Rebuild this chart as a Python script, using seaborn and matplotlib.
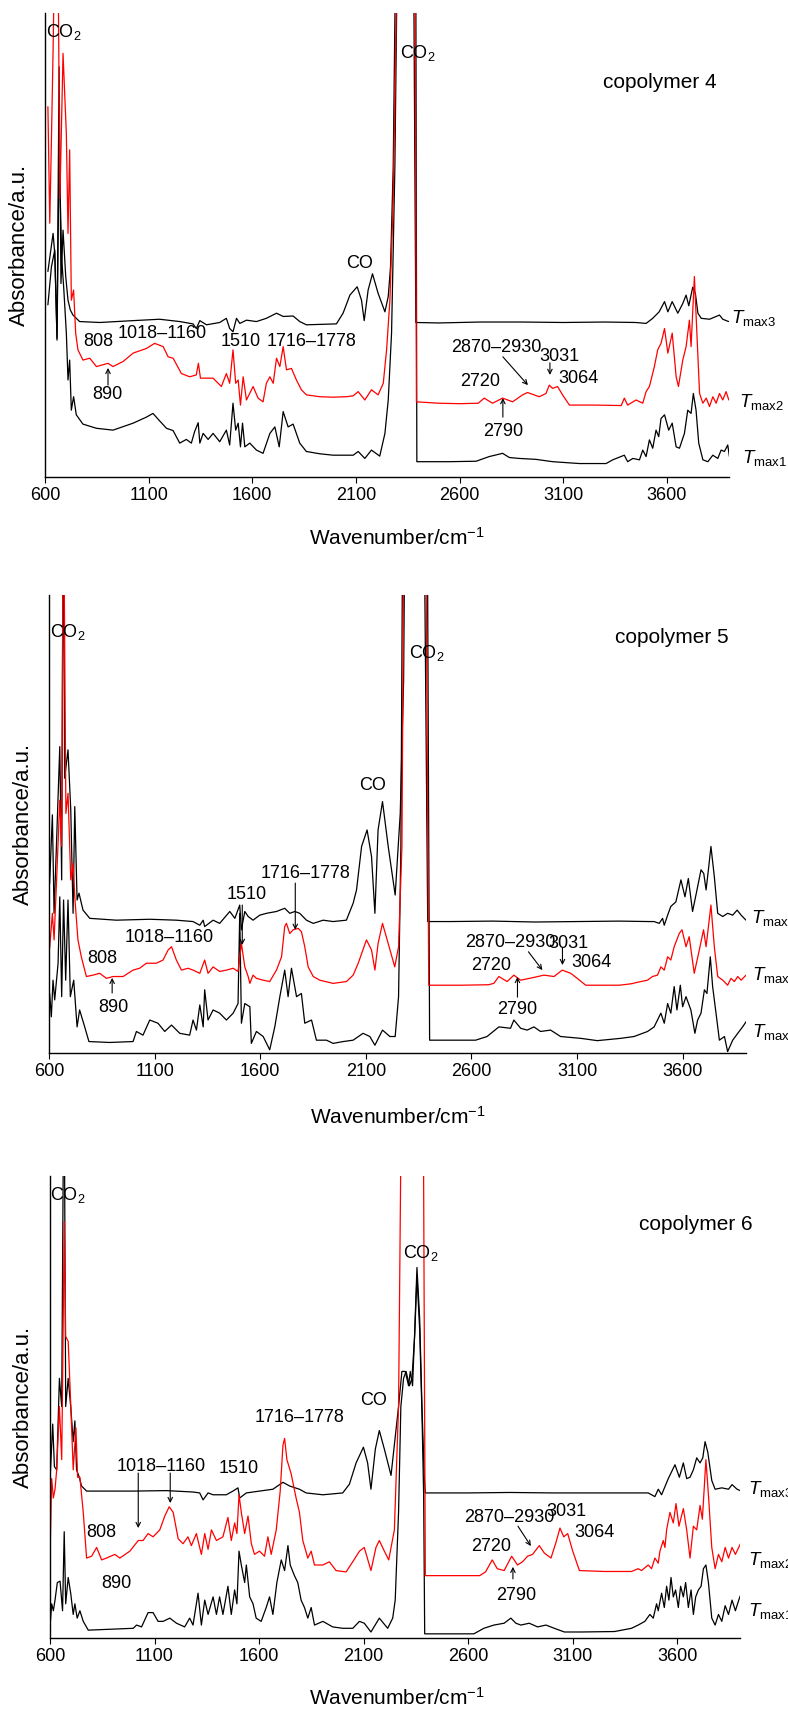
import matplotlib
matplotlib.use("Agg")
import matplotlib.pyplot as plt
import seaborn as sns
import pandas as pd

# ---------------- data (wavenumber / cm-1, absorbance in a.u.) ----------------
# copolymer 4
c4_tmax3_wn = [614, 639, 647, 658, 668, 677, 687, 700, 711, 722, 735, 767, 864, 1025, 1153, 1250, 1314, 1330, 1347, 1379,
               1443, 1475, 1491, 1507, 1524, 1540, 1572, 1620, 1668, 1717, 1749, 1797, 1829, 1861, 2006, 2038, 2071, 2106, 2127, 2140,
               2159, 2180, 2207, 2240, 2256, 2267, 2280, 2296, 2376, 2389, 2500, 2700, 2900, 3100, 3300, 3450, 3500, 3532, 3563, 3589,
               3605, 3626, 3653, 3677, 3693, 3706, 3725, 3738, 3750, 3766, 3806, 3838, 3854, 3870, 3898]
c4_tmax3_abs = [44.3, 52.5, 48.2, 29.5, 88.4, 41.7, 53.2, 43.2, 38.1, 36.0, 34.9, 33.5, 33.3, 33.7, 34.0, 33.5, 33.0, 32.0, 33.7, 32.8,
                33.3, 34.2, 32.0, 31.3, 34.2, 33.1, 33.8, 33.5, 34.2, 35.3, 34.6, 34.7, 33.5, 32.8, 33.0, 35.3, 39.2, 41.0, 38.1, 33.7,
                40.3, 43.8, 39.6, 35.6, 38.9, 45.3, 66.9, 130, 130, 33.3, 33.2, 33.4, 33.4, 33.3, 33.4, 33.3, 33.1, 34.2, 35.6, 37.8,
                35.6, 37.8, 35.3, 37.4, 39.2, 36.9, 40.9, 39.5, 35.3, 34.2, 34.0, 34.6, 34.9, 34.0, 33.5]
c4_tmax2_wn = [614, 623, 631, 639, 652, 660, 672, 687, 703, 711, 719, 727, 738, 748, 759, 783, 816, 848, 904, 928,
               977, 1025, 1089, 1129, 1170, 1194, 1218, 1258, 1298, 1330, 1340, 1350, 1411, 1451, 1475, 1491, 1507, 1520, 1532, 1543,
               1556, 1572, 1604, 1628, 1652, 1668, 1685, 1701, 1717, 1733, 1749, 1765, 1789, 1813, 1837, 1861, 1926, 1990, 2055, 2087,
               2111, 2143, 2175, 2207, 2232, 2248, 2264, 2280, 2293, 2300, 2384, 2392, 2500, 2600, 2690, 2719, 2759, 2808, 2856, 2904,
               2928, 2985, 3017, 3033, 3049, 3073, 3097, 3130, 3250, 3380, 3395, 3411, 3452, 3484, 3500, 3516, 3540, 3556, 3572, 3589,
               3605, 3626, 3645, 3656, 3677, 3693, 3709, 3717, 3733, 3745, 3758, 3774, 3790, 3806, 3822, 3838, 3854, 3870, 3886, 3899]
c4_tmax2_abs = [79.8, 54.7, 72.6, 92.0, 130, 130, 60.0, 91.3, 74.0, 52.5, 70.5, 38.1, 40.3, 31.0, 27.4, 25.2, 25.6, 23.8, 24.5, 23.8,
                24.9, 26.7, 27.7, 28.8, 28.1, 25.9, 25.6, 22.3, 21.6, 22.0, 24.5, 21.3, 21.3, 19.5, 22.3, 20.2, 27.4, 20.2, 20.9, 15.5,
                21.6, 16.6, 19.5, 17.0, 16.2, 20.2, 21.6, 20.2, 25.6, 23.8, 28.1, 23.1, 23.4, 20.9, 18.8, 17.7, 17.3, 17.2, 17.3, 17.5,
                18.4, 16.6, 18.8, 17.7, 20.2, 27.4, 38.1, 59.7, 95.6, 130, 130, 16.2, 15.9, 15.8, 15.9, 17.0, 15.9, 17.0, 16.2, 17.7,
                18.2, 17.3, 18.0, 19.8, 19.1, 19.5, 17.7, 15.5, 15.5, 15.4, 17.0, 15.5, 16.6, 15.9, 18.4, 19.5, 23.8, 27.4, 28.8, 32.0,
                26.7, 31.0, 21.6, 19.5, 25.2, 28.1, 33.8, 28.1, 43.2, 31.0, 18.0, 15.9, 17.0, 15.2, 17.3, 15.9, 18.0, 16.6, 18.4, 16.6]
c4_tmax1_wn = [614, 631, 647, 658, 668, 681, 690, 703, 711, 719, 727, 738, 751, 783, 848, 928, 1025, 1089, 1121, 1153,
               1186, 1218, 1250, 1282, 1306, 1322, 1339, 1347, 1363, 1387, 1411, 1443, 1475, 1491, 1507, 1520, 1532, 1543, 1553, 1564,
               1588, 1620, 1652, 1685, 1709, 1730, 1749, 1773, 1797, 1829, 1861, 1926, 1990, 2087, 2111, 2143, 2175, 2215, 2240, 2256,
               2272, 2288, 2304, 2388, 2394, 2550, 2680, 2743, 2808, 2840, 2888, 2969, 3049, 3178, 3307, 3339, 3395, 3411, 3436, 3468,
               3484, 3500, 3516, 3532, 3548, 3561, 3572, 3589, 3609, 3626, 3645, 3661, 3685, 3701, 3717, 3728, 3741, 3754, 3774, 3798,
               3822, 3846, 3862, 3878, 3894, 3902]
c4_tmax1_abs = [37.1, 45.3, 48.9, 29.9, 70.0, 46.8, 41.0, 31.0, 20.9, 25.2, 14.4, 17.3, 13.4, 11.4, 10.5, 10.1, 11.6, 12.9, 13.7, 12.1,
                10.5, 10.0, 7.3, 8.1, 7.3, 9.8, 11.7, 7.3, 9.4, 8.1, 9.4, 7.6, 10.1, 6.9, 15.9, 10.1, 11.6, 6.5, 11.6, 6.5,
                7.3, 5.8, 5.1, 9.4, 10.8, 6.5, 14.1, 10.8, 11.4, 7.3, 5.5, 5.0, 4.7, 4.7, 5.5, 4.0, 5.8, 4.5, 9.4, 16.6,
                31.0, 66.9, 130, 130, 3.3, 3.3, 3.4, 4.4, 5.1, 4.2, 4.0, 3.8, 3.3, 2.9, 2.9, 3.7, 4.7, 3.3, 4.0, 3.7,
                5.8, 4.4, 8.0, 6.2, 10.1, 8.7, 12.6, 13.4, 10.1, 11.6, 6.5, 6.2, 9.4, 14.4, 13.7, 18.0, 14.4, 7.3, 3.7, 3.3,
                4.7, 4.0, 5.8, 5.5, 6.9, 4.4]

# copolymer 5
c5_tmax3_wn = [603, 616, 624, 635, 651, 660, 668, 674, 690, 703, 714, 722, 733, 742, 761, 793, 919, 1077, 1203, 1282,
               1314, 1330, 1337, 1377, 1408, 1456, 1480, 1503, 1511, 1527, 1543, 1566, 1598, 1630, 1677, 1716, 1740, 1764, 1787, 1819,
               1851, 1898, 1945, 2008, 2040, 2056, 2080, 2106, 2127, 2143, 2158, 2179, 2206, 2239, 2263, 2279, 2287, 2374, 2393, 2500,
               2700, 2900, 3100, 3300, 3440, 3465, 3489, 3505, 3513, 3529, 3544, 3568, 3592, 3611, 3627, 3647, 3671, 3687, 3700, 3711,
               3722, 3734, 3750, 3766, 3790, 3813, 3837, 3858, 3877, 3900]
c5_tmax3_abs = [37.0, 52.0, 30.5, 45.0, 66.9, 37.8, 130, 60.0, 66.2, 53.1, 30.5, 53.8, 33.4, 34.9, 31.2, 29.4, 29.0, 29.2, 29.0, 28.7,
                27.9, 29.0, 27.6, 29.0, 28.3, 30.9, 29.4, 32.3, 26.9, 30.9, 29.8, 29.0, 30.1, 30.5, 30.9, 31.6, 30.5, 30.9, 30.5, 29.0,
                28.3, 29.0, 28.7, 29.0, 32.7, 35.6, 45.1, 48.7, 42.9, 30.5, 48.7, 54.9, 45.1, 34.5, 52.3, 81.4, 130, 130, 28.7, 28.7,
                28.8, 28.6, 28.7, 28.8, 28.7, 28.7, 28.3, 29.4, 27.9, 30.1, 32.0, 33.0, 37.8, 34.1, 38.1, 30.9, 36.3, 40.0, 39.2, 35.6,
                40.0, 45.1, 38.5, 30.5, 29.8, 30.5, 30.1, 31.2, 30.1, 29.0]
c5_tmax2_wn = [603, 616, 624, 636, 651, 660, 668, 680, 690, 703, 714, 722, 737, 753, 777, 808, 840, 872, 903, 951,
               998, 1029, 1061, 1108, 1140, 1164, 1180, 1203, 1227, 1258, 1282, 1314, 1337, 1353, 1377, 1408, 1440, 1472, 1495, 1511,
               1527, 1543, 1551, 1566, 1582, 1614, 1645, 1677, 1701, 1716, 1724, 1740, 1756, 1780, 1795, 1811, 1827, 1851, 1882, 1945,
               2008, 2040, 2064, 2103, 2127, 2143, 2158, 2179, 2206, 2237, 2255, 2271, 2282, 2382, 2398, 2550, 2680, 2706, 2730, 2769,
               2801, 2833, 2896, 2943, 2991, 3030, 3070, 3101, 3141, 3300, 3355, 3402, 3434, 3457, 3481, 3497, 3513, 3529, 3544, 3560,
               3584, 3597, 3616, 3631, 3655, 3679, 3699, 3711, 3734, 3750, 3766, 3790, 3813, 3829, 3845, 3861, 3877, 3900]
c5_tmax2_abs = [22.9, 30.5, 24.7, 37.8, 55.2, 45.1, 130, 52.3, 56.7, 37.8, 41.4, 34.1, 24.7, 21.0, 16.7, 17.0, 17.4, 16.3, 16.7, 16.7,
                18.1, 18.5, 19.6, 19.6, 20.3, 22.5, 23.2, 20.3, 18.1, 18.5, 18.1, 17.4, 20.3, 17.4, 18.8, 17.8, 18.1, 18.5, 17.8, 23.9,
                18.8, 16.7, 15.2, 17.0, 16.3, 15.9, 15.6, 18.1, 21.0, 27.6, 28.3, 26.1, 26.9, 27.2, 26.5, 23.2, 18.8, 16.7, 15.9, 15.2,
                15.6, 17.0, 19.6, 24.7, 22.5, 18.1, 23.9, 28.3, 23.9, 18.8, 23.2, 45.1, 130, 130, 14.8, 14.8, 14.9, 15.2, 16.7, 15.6,
                17.0, 15.9, 16.5, 17.0, 16.7, 18.1, 17.4, 16.3, 14.8, 14.8, 15.1, 15.6, 15.9, 16.7, 17.0, 18.8, 18.1, 21.0, 20.3, 23.2,
                26.1, 26.9, 23.2, 25.4, 17.4, 22.5, 26.9, 23.2, 32.3, 23.2, 16.7, 15.9, 14.8, 16.3, 15.6, 16.7, 15.9, 17.0]
c5_tmax1_wn = [603, 611, 619, 627, 643, 651, 660, 669, 679, 690, 701, 717, 733, 745, 769, 789, 887, 998, 1014, 1045,
               1077, 1116, 1148, 1180, 1219, 1266, 1282, 1298, 1314, 1330, 1337, 1353, 1377, 1408, 1440, 1472, 1495, 1503, 1511, 1527,
               1551, 1558, 1582, 1614, 1645, 1669, 1693, 1716, 1732, 1748, 1772, 1795, 1811, 1843, 1866, 1914, 1945, 1993, 2040, 2087,
               2119, 2143, 2179, 2214, 2239, 2255, 2266, 2276, 2390, 2402, 2500, 2620, 2674, 2730, 2785, 2801, 2833, 2864, 2896, 2927,
               2975, 3022, 3117, 3196, 3307, 3370, 3434, 3465, 3497, 3513, 3529, 3544, 3560, 3573, 3589, 3600, 3616, 3639, 3658, 3671,
               3687, 3703, 3715, 3731, 3742, 3758, 3774, 3798, 3813, 3837, 3861, 3884, 3900]
c5_tmax1_abs = [13.0, 7.9, 15.9, 11.6, 19.6, 34.1, 12.3, 33.4, 15.9, 33.4, 12.3, 15.9, 5.7, 9.4, 5.7, 2.5, 2.3, 2.5, 4.7, 3.9,
                7.2, 6.5, 4.7, 6.1, 4.3, 3.9, 7.2, 5.0, 10.5, 5.7, 13.8, 7.2, 9.4, 8.7, 7.2, 8.7, 10.8, 30.5, 6.5, 10.8,
                10.1, 2.1, 4.7, 3.6, 0.7, 5.7, 12.3, 18.1, 12.3, 18.5, 12.3, 13.0, 6.5, 7.2, 2.8, 2.8, 2.1, 2.5, 2.8, 4.3,
                3.6, 1.7, 5.0, 3.6, 3.6, 12.3, 45.1, 130, 130, 2.8, 2.8, 2.8, 3.6, 5.7, 5.4, 7.2, 5.4, 5.0, 5.7, 4.7,
                5.0, 3.6, 3.2, 2.7, 3.2, 3.6, 4.7, 5.7, 8.7, 6.5, 10.8, 8.7, 14.5, 9.4, 14.8, 10.1, 12.3, 9.4, 4.3, 7.2,
                8.7, 13.8, 13.0, 21.0, 14.5, 8.7, 2.8, 3.6, 0.3, 2.8, 4.3, 5.7, 6.8]

# copolymer 6
c6_tmax3_wn = [602, 613, 621, 632, 645, 656, 667, 675, 687, 699, 711, 719, 727, 740, 751, 775, 998, 1157, 1284, 1316,
               1332, 1356, 1380, 1443, 1475, 1499, 1507, 1539, 1602, 1666, 1714, 1746, 1793, 1825, 1905, 2000, 2032, 2064, 2099, 2119,
               2135, 2156, 2175, 2199, 2231, 2267, 2283, 2299, 2315, 2323, 2334, 2344, 2355, 2368, 2379, 2390, 2395, 2600, 2800, 3000,
               3200, 3440, 3461, 3493, 3509, 3525, 3557, 3589, 3610, 3629, 3645, 3661, 3677, 3693, 3709, 3722, 3733, 3746, 3765, 3781,
               3813, 3845, 3862, 3886, 3906]
c6_tmax3_abs = [36.0, 46.3, 37.1, 36.4, 56.2, 50.1, 130, 50.1, 56.2, 50.1, 42.5, 47.0, 36.4, 34.8, 32.9, 31.8, 31.8, 31.9, 31.6, 31.4,
                29.9, 31.4, 31.0, 31.0, 31.8, 32.5, 30.3, 31.4, 31.8, 32.2, 33.7, 32.9, 32.2, 31.4, 31.0, 31.4, 33.3, 37.9, 41.3, 37.9,
                32.2, 40.9, 44.9, 40.9, 35.2, 50.1, 57.7, 57.7, 54.6, 57.7, 54.6, 66.1, 80.2, 69.1, 50.1, 34.8, 31.4, 31.4, 31.5, 31.4,
                31.4, 31.4, 31.4, 30.6, 32.2, 31.0, 34.5, 37.5, 34.8, 37.9, 34.5, 34.8, 36.4, 39.0, 37.9, 39.0, 42.5, 40.2, 34.1, 32.2,
                32.5, 32.2, 33.2, 32.2, 31.8]
c6_tmax2_wn = [602, 608, 616, 624, 632, 645, 656, 660, 668, 675, 687, 699, 711, 724, 732, 743, 759, 775, 799, 823,
               847, 870, 910, 934, 982, 1022, 1045, 1069, 1093, 1125, 1149, 1170, 1189, 1213, 1236, 1260, 1276, 1300, 1324, 1340,
               1356, 1372, 1396, 1427, 1451, 1467, 1483, 1494, 1504, 1515, 1531, 1547, 1563, 1578, 1602, 1626, 1642, 1658, 1682, 1701,
               1714, 1722, 1733, 1753, 1777, 1793, 1809, 1833, 1849, 1865, 1905, 1936, 1968, 2016, 2048, 2080, 2103, 2135, 2159, 2175,
               2199, 2220, 2247, 2267, 2283, 2384, 2395, 2550, 2655, 2683, 2715, 2739, 2772, 2808, 2836, 2860, 2884, 2908, 2940, 2964,
               2996, 3020, 3039, 3057, 3076, 3100, 3132, 3250, 3381, 3413, 3429, 3461, 3477, 3493, 3509, 3517, 3533, 3541, 3549, 3565,
               3581, 3594, 3608, 3629, 3645, 3661, 3677, 3693, 3709, 3720, 3737, 3749, 3765, 3781, 3797, 3813, 3829, 3845, 3862, 3878,
               3902]
c6_tmax2_abs = [21.5, 34.5, 30.3, 32.2, 36.4, 50.1, 38.6, 54.6, 90.1, 65.3, 64.2, 50.8, 36.4, 45.5, 34.8, 34.8, 27.2, 17.3, 17.7, 19.6,
                16.9, 17.3, 18.1, 17.3, 18.8, 21.1, 21.1, 22.6, 21.9, 23.4, 26.4, 28.4, 27.2, 21.5, 20.4, 21.9, 20.0, 22.6, 18.1, 22.6,
                19.2, 23.4, 21.1, 21.9, 26.1, 21.1, 24.9, 22.6, 31.0, 27.2, 22.6, 26.4, 20.4, 18.1, 18.8, 17.7, 21.9, 18.1, 23.4, 31.8,
                41.7, 43.2, 38.6, 35.6, 30.3, 27.2, 21.1, 17.3, 18.8, 15.8, 15.8, 16.5, 14.6, 14.3, 16.5, 18.8, 19.6, 14.6, 19.6, 21.1,
                18.8, 16.9, 23.4, 50.1, 130, 130, 13.5, 13.5, 13.5, 14.3, 16.9, 15.0, 14.6, 17.7, 15.8, 16.5, 17.7, 18.1, 20.0, 18.4,
                17.3, 20.7, 23.8, 21.9, 22.6, 18.8, 14.6, 14.4, 14.4, 15.0, 14.6, 15.8, 15.0, 17.3, 16.2, 18.8, 21.1, 19.6, 23.4, 27.2,
                24.9, 29.1, 24.2, 28.0, 23.4, 17.3, 24.2, 23.4, 28.7, 25.7, 38.6, 31.0, 19.6, 15.0, 18.1, 16.5, 19.6, 17.3, 19.6, 18.1,
                20.4]
c6_tmax1_wn = [602, 608, 616, 624, 635, 648, 660, 668, 675, 687, 699, 711, 719, 730, 743, 759, 783, 886, 998, 1014,
               1038, 1069, 1093, 1117, 1141, 1173, 1205, 1244, 1268, 1284, 1308, 1324, 1340, 1356, 1380, 1396, 1411, 1427, 1451, 1467,
               1483, 1494, 1504, 1515, 1531, 1539, 1555, 1571, 1586, 1610, 1634, 1650, 1666, 1685, 1706, 1722, 1738, 1749, 1769, 1785,
               1801, 1817, 1833, 1849, 1865, 1905, 1952, 2000, 2048, 2080, 2103, 2135, 2175, 2215, 2239, 2251, 2267, 2278, 2291, 2303,
               2319, 2331, 2344, 2355, 2368, 2379, 2387, 2392, 2550, 2627, 2675, 2723, 2772, 2804, 2828, 2852, 2892, 2932, 2972, 3012,
               3060, 3140, 3300, 3381, 3413, 3445, 3469, 3485, 3501, 3509, 3525, 3538, 3549, 3560, 3570, 3581, 3592, 3605, 3616, 3629,
               3640, 3653, 3666, 3677, 3688, 3701, 3714, 3725, 3737, 3749, 3765, 3781, 3797, 3813, 3829, 3845, 3862, 3878, 3894, 3906]
c6_tmax1_abs = [3.6, 7.4, 5.9, 8.2, 12.0, 12.3, 5.9, 23.0, 7.4, 13.1, 9.7, 5.1, 7.4, 4.3, 5.9, 3.6, 1.7, 1.9, 2.1, 2.8,
                2.4, 5.5, 5.5, 3.6, 3.6, 4.3, 3.2, 2.4, 4.3, 2.8, 9.7, 2.8, 8.2, 5.1, 8.9, 5.1, 8.9, 5.1, 11.2, 5.1,
                10.4, 7.4, 18.8, 15.8, 12.0, 15.8, 8.9, 7.4, 4.3, 3.6, 6.6, 8.9, 5.1, 12.0, 16.9, 14.6, 20.0, 15.8, 13.5, 12.0,
                8.2, 6.6, 4.3, 6.6, 2.8, 3.6, 2.4, 2.1, 2.1, 3.6, 3.2, 1.3, 4.3, 2.1, 4.3, 8.2, 27.2, 50.1, 56.2, 57.7,
                54.6, 56.2, 65.3, 78.3, 66.8, 48.6, 31.0, 0.9, 0.9, 0.9, 2.1, 2.8, 3.2, 4.3, 3.2, 2.8, 3.2, 2.4, 2.8, 2.1,
                1.3, 1.3, 1.4, 2.1, 2.8, 3.6, 5.1, 4.3, 7.4, 5.9, 9.7, 6.6, 11.2, 8.2, 13.1, 8.9, 10.4, 6.6, 11.2, 8.9,
                12.0, 6.6, 10.4, 5.1, 8.9, 10.4, 11.2, 15.0, 15.8, 12.0, 4.3, 2.8, 5.1, 3.6, 7.0, 5.1, 8.2, 5.9, 8.2, 9.7]

x_ticks = [600, 1100, 1600, 2100, 2600, 3100, 3600]
panel_titles = ["copolymer 4", "copolymer 5", "copolymer 6"]
series_labels = [r"$T_{\mathrm{max3}}$", r"$T_{\mathrm{max2}}$", r"$T_{\mathrm{max1}}$"]

# ---------------- style ----------------
sns.set_theme(style="ticks")
plt.rcParams["font.family"] = ["Liberation Sans", "DejaVu Sans"]
plt.rcParams["mathtext.fontset"] = "custom"
plt.rcParams["mathtext.rm"] = "Liberation Sans"
plt.rcParams["mathtext.it"] = "Liberation Sans:italic"
plt.rcParams["mathtext.bf"] = "Liberation Sans:bold"

W, H = 788, 1712
fig = plt.figure(figsize=(W / 100, H / 100), dpi=100)


def rect(l, r, t, b):
    return [l / W, 1 - b / H, (r - l) / W, (b - t) / H]


panels = [
    dict(rect=rect(45, 729, 13, 477),
         series=[(c4_tmax3_wn, c4_tmax3_abs), (c4_tmax2_wn, c4_tmax2_abs), (c4_tmax1_wn, c4_tmax1_abs)],
         xlab=(0.515, -0.131), ylab=(-0.037, 0.5)),
    dict(rect=rect(49, 746, 595, 1053),
         series=[(c5_tmax3_wn, c5_tmax3_abs), (c5_tmax2_wn, c5_tmax2_abs), (c5_tmax1_wn, c5_tmax1_abs)],
         xlab=(0.5, -0.140), ylab=(-0.036, 0.5)),
    dict(rect=rect(50, 740, 1176, 1638),
         series=[(c6_tmax3_wn, c6_tmax3_abs), (c6_tmax2_wn, c6_tmax2_abs), (c6_tmax1_wn, c6_tmax1_abs)],
         xlab=(0.503, -0.130), ylab=(-0.039, 0.5)),
]

colors = ["black", "#ff0000", "black"]
order = [2, 0, 1]

# annotation positions (data coords) per panel
texts = [
    [(r"CO$_2$", 692, 95.9), (r"CO$_2$", 2399, 91.4), ("CO", 2120, 46.1), ("808", 856, 29.1),
     ("1018–1160", 1164, 31.0), ("890", 899, 17.7), ("1510", 1545, 29.1), ("1716–1778", 1888, 29.1),
     ("2870–2930", 2776, 28.0), ("3031", 3080, 25.9), ("3064", 3176, 21.3), ("2720", 2698, 20.5),
     ("2790", 2809, 9.7)],
    [(r"CO$_2$", 690, 91.9), (r"CO$_2$", 2391, 87.3), ("CO", 2131, 58.5), ("1716–1778", 1813, 39.3),
     ("1510", 1534, 34.5), ("1018–1160", 1169, 25.3), ("808", 851, 20.7), ("890", 903, 10.0),
     ("2870–2930", 2785, 24.2), ("3031", 3060, 24.0), ("3064", 3169, 19.7), ("2720", 2695, 19.2),
     ("2790", 2818, 9.4)],
    [(r"CO$_2$", 686, 95.9), (r"CO$_2$", 2373, 83.3), ("CO", 2148, 51.3), ("1716–1778", 1793, 47.8),
     ("1018–1160", 1132, 37.2), ("1510", 1501, 36.6), ("808", 844, 22.9), ("890", 916, 11.9),
     ("2870–2930", 2795, 26.0), ("3031", 3072, 27.3), ("3064", 3202, 22.9), ("2720", 2708, 19.7),
     ("2790", 2828, 9.3)],
]
arrows = [
    [((904, 19.8), (904, 23.5)), ((2809, 25.9), (2930, 19.8)), ((3036, 24.6), (3036, 22.0)),
     ((2809, 12.9), (2809, 17.0))],
    [((899, 13.1), (899, 16.4)), ((1766, 37.1), (1766, 26.9)), ((1515, 32.3), (1515, 23.6)),
     ((2870, 22.1), (2936, 18.1)), ((3031, 22.9), (3031, 19.2)), ((2818, 12.2), (2818, 16.6))],
    [((1022, 35.7), (1022, 23.8)), ((1175, 35.7), (1175, 29.2)), ((2838, 24.2), (2900, 19.9)),
     ((2814, 12.8), (2814, 15.4))],
]
title_pos = [(3567, 85.1), (3548, 90.8), (3691, 89.4)]
tlabel_pos = [
    [(3912, 34.3), (3950, 16.2), (3962, 4.1)],
    [(3922, 29.5), (3927, 17.0), (3927, 4.6)],
    [(3940, 32.3), (3940, 16.9), (3940, 5.8)],
]

for p, pan in enumerate(panels):
    ax = fig.add_axes(pan["rect"])
    for i in order:
        wn, ab = pan["series"][i]
        df = pd.DataFrame({"wn": wn, "ab": ab})
        sns.lineplot(data=df, x="wn", y="ab", ax=ax, color=colors[i], lw=0.9,
                     sort=False, estimator=None, legend=False)
    ax.set_xlim(600, 3900)
    ax.set_ylim(0, 100)
    ax.set_yticks([])
    ax.set_xticks(x_ticks)
    ax.set_xticklabels([str(t) for t in x_ticks])
    ax.tick_params(axis="x", direction="out", length=4, width=0.8, labelsize=13, pad=3, colors="black")
    for s in ["top", "right"]:
        ax.spines[s].set_visible(False)
    for s in ["left", "bottom"]:
        ax.spines[s].set_color("black")
        ax.spines[s].set_linewidth(1.0)
    ax.set_xlabel(r"Wavenumber/cm$^{-1}$", fontsize=15, va="center", color="black")
    ax.xaxis.set_label_coords(*pan["xlab"])
    ax.set_ylabel("Absorbance/a.u.", fontsize=16, va="center", color="black")
    ax.yaxis.set_label_coords(*pan["ylab"])

    for (s, x, y) in texts[p]:
        ax.text(x, y, s, fontsize=13, ha="center", va="center", color="black")
    for (tail, head) in arrows[p]:
        ax.annotate("", xy=head, xytext=tail,
                    arrowprops=dict(arrowstyle="->", color="black", lw=0.8,
                                    shrinkA=0, shrinkB=0, mutation_scale=8))
    ax.text(title_pos[p][0], title_pos[p][1], panel_titles[p], fontsize=15,
            ha="center", va="center", color="black")
    for k, (x, y) in enumerate(tlabel_pos[p]):
        ax.text(x, y, series_labels[k], fontsize=13.5, ha="left", va="center", color="black")

fig.savefig("out.png", dpi=100, facecolor="white")
